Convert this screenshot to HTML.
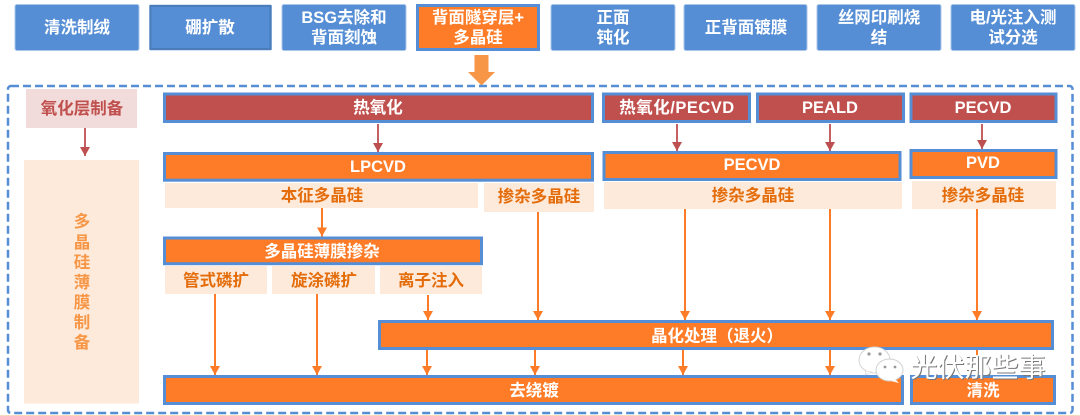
<!DOCTYPE html>
<html lang="zh"><head><meta charset="utf-8"><style>
html,body{margin:0;padding:0;background:#fff}
svg{display:block}
text{font-family:"Liberation Sans","Noto Sans CJK SC",sans-serif;font-weight:700;text-anchor:middle;dominant-baseline:central}
.w{fill:#fff}.o{fill:#e46c0a}.r{fill:#c0504d}.p{fill:#f79646}
</style></head><body>
<svg width="1080" height="416" viewBox="0 0 1080 416" xmlns="http://www.w3.org/2000/svg">
<defs>
<marker id="ao" markerUnits="userSpaceOnUse" markerWidth="10" markerHeight="10" refX="9" refY="5" orient="auto"><path d="M0 0L9 5L0 10z" fill="#fe7c27"/></marker>
<marker id="ar" markerUnits="userSpaceOnUse" markerWidth="10" markerHeight="10" refX="9" refY="5" orient="auto"><path d="M0 0L9 5L0 10z" fill="#bd4f50"/></marker>
</defs>
<rect width="1080" height="416" fill="#fff"/>
<g fill="#558ed5" stroke="#a9c6ea" stroke-width="1">
<rect x="15" y="4.500" width="124" height="46" rx="2"/>
<rect x="282" y="4.500" width="124" height="46" rx="2"/>
<rect x="551" y="4.500" width="124" height="46" rx="2"/>
<rect x="684" y="4.500" width="123" height="46" rx="2"/>
<rect x="817" y="4.500" width="124" height="46" rx="2"/>
<rect x="951" y="4.500" width="124" height="46" rx="2"/>
</g>
<rect x="149" y="4.500" width="123" height="46" rx="2" fill="#a9c6ea"/>
<rect x="150.500" y="6" width="120" height="43" fill="#558ed5" stroke="#4a7db9" stroke-width="2"/>
<rect x="417.500" y="5.500" width="121" height="44" fill="#fe7c27" stroke="#558ed5" stroke-width="3"/>
<g font-size="16.500">
<text x="77" y="28" class="w">清洗制绒</text>
<text x="210" y="28" class="w">硼扩散</text>
<text x="344" y="18" class="w">BSG去除和</text>
<text x="344" y="38" class="w">背面刻蚀</text>
<text x="478" y="18" class="w">背面隧穿层+</text>
<text x="478" y="38" class="w">多晶硅</text>
<text x="613" y="18" class="w">正面</text>
<text x="613" y="38" class="w">钝化</text>
<text x="746" y="28" class="w">正背面镀膜</text>
<text x="879" y="18" class="w">丝网印刷烧</text>
<text x="879" y="38" class="w">结</text>
<text x="1013" y="18" class="w">电/光注入测</text>
<text x="1013" y="38" class="w">试分选</text>
</g>
<path d="M474.500 55H488.500V72H495L481.500 85.500L468 72H474.500z" fill="#f79646"/>
<rect x="8" y="86" width="1064.500" height="327" rx="3" fill="none" stroke="#558ed5" stroke-width="2.500" stroke-dasharray="8 4"/>

<rect x="26" y="89" width="111" height="39" fill="#f2dcdb"/>
<text x="82" y="109" font-size="16.500" class="r">氧化层制备</text>
<rect x="24" y="160" width="115" height="243.500" fill="#fdeada"/>
<g font-size="16.500">
<text x="82" y="222" class="p">多</text>
<text x="82" y="243" class="p">晶</text>
<text x="82" y="263" class="p">硅</text>
<text x="82" y="283" class="p">薄</text>
<text x="82" y="303" class="p">膜</text>
<text x="82" y="323" class="p">制</text>
<text x="82" y="343" class="p">备</text>
</g>

<g fill="#c0504d" stroke="#558ed5" stroke-width="3">
<rect x="164.500" y="94" width="428" height="27.500"/>
<rect x="603.500" y="94" width="146" height="27.500"/>
<rect x="757.500" y="94" width="146" height="27.500"/>
<rect x="911" y="94" width="145" height="27.500"/>
</g>
<g font-size="16.500">
<text x="378" y="108" class="w">热氧化</text>
<text x="677" y="108" class="w" letter-spacing=".5">热氧化/PECVD</text>
<text x="830" y="108" class="w">PEALD</text>
<text x="983" y="108" class="w">PECVD</text>
</g>

<g fill="#fdeada">
<rect x="165" y="183" width="313" height="25"/>
<rect x="484" y="183" width="110" height="29"/>
<rect x="604" y="182" width="298" height="27"/>
<rect x="912" y="181" width="144" height="28"/>
<rect x="165" y="266" width="102" height="28"/>
<rect x="272" y="266" width="103" height="28"/>
<rect x="380" y="266" width="102" height="28"/>
</g>
<g fill="#fe7c27" stroke="#558ed5" stroke-width="3">
<rect x="164.500" y="153.500" width="428" height="26.700"/>
<rect x="604" y="152.500" width="296" height="27"/>
<rect x="911" y="150.500" width="145" height="27"/>
<rect x="164.500" y="238" width="317" height="25.700"/>
<rect x="379.500" y="321.500" width="673" height="27"/>
<rect x="164.500" y="376.500" width="738" height="27"/>
<rect x="911.500" y="376.500" width="143" height="27"/>
</g>
<g font-size="16.500">
<text x="378" y="167" class="w">LPCVD</text>
<text x="752" y="165" class="w">PECVD</text>
<text x="983" y="163" class="w">PVD</text>
<text x="322" y="252" class="w">多晶硅薄膜掺杂</text>
<text x="717" y="336.500" class="w">晶化处理（退火）</text>
<text x="534" y="391" class="w">去绕镀</text>
<text x="983" y="391" class="w">清洗</text>
<text x="322" y="196" class="o">本征多晶硅</text>
<text x="539" y="197" class="o">掺杂多晶硅</text>
<text x="753" y="196" class="o">掺杂多晶硅</text>
<text x="983" y="196" class="o">掺杂多晶硅</text>
<text x="216" y="281" class="o">管式磷扩</text>
<text x="324" y="281" class="o">旋涂磷扩</text>
<text x="431" y="281" class="o">离子注入</text>
</g>

<g stroke="#bd4f50" stroke-width="1.800" fill="none">
<line x1="85" y1="128" x2="85" y2="156" marker-end="url(#ar)"/>
<line x1="378" y1="124" x2="378" y2="152" marker-end="url(#ar)"/>
<line x1="677" y1="124" x2="677" y2="151" marker-end="url(#ar)"/>
<line x1="830" y1="124" x2="830" y2="151" marker-end="url(#ar)"/>
<line x1="982" y1="124" x2="982" y2="149" marker-end="url(#ar)"/>
</g>
<g stroke="#fe7c27" stroke-width="2" fill="none">
<line x1="322" y1="208" x2="322" y2="236.500" marker-end="url(#ao)"/>
<line x1="215" y1="294" x2="215" y2="375" marker-end="url(#ao)"/>
<line x1="317" y1="294" x2="317" y2="375" marker-end="url(#ao)"/>
<line x1="428" y1="295" x2="428" y2="320" marker-end="url(#ao)"/>
<line x1="538" y1="212" x2="538" y2="320" marker-end="url(#ao)"/>
<line x1="685" y1="209" x2="685" y2="320" marker-end="url(#ao)"/>
<line x1="830" y1="209" x2="830" y2="320" marker-end="url(#ao)"/>
<line x1="977" y1="209" x2="977" y2="320" marker-end="url(#ao)"/>
<line x1="427" y1="350" x2="427" y2="375" marker-end="url(#ao)"/>
<line x1="535" y1="350" x2="535" y2="375" marker-end="url(#ao)"/>
<line x1="683" y1="350" x2="683" y2="375" marker-end="url(#ao)"/>
<line x1="830" y1="350" x2="830" y2="375" marker-end="url(#ao)"/>
<line x1="977" y1="350" x2="977" y2="375"/>
</g>

<g>
<ellipse cx="874.500" cy="360" rx="15.500" ry="13" fill="#fff" stroke="#d5d5d5" stroke-width="1"/>
<path d="M866 371l-1 4 7-3z" fill="#fff" stroke="#d5d5d5" stroke-width=".6"/>
<ellipse cx="889.500" cy="370" rx="13.500" ry="11" fill="#fff" stroke="#d0d0d0" stroke-width="1"/>
<path d="M895 379l4 4-8-2z" fill="#fff"/>
<circle cx="869" cy="354" r="1.600" fill="#999"/><circle cx="880" cy="354" r="1.600" fill="#999"/>
<circle cx="885" cy="367" r="1.400" fill="#999"/><circle cx="895" cy="367" r="1.400" fill="#999"/>
</g>
<text x="978" y="368" font-size="27" style="font-weight:400" fill="#777" transform="translate(1 1)">光伏那些事</text>
<text x="978" y="368" font-size="27" style="font-weight:400" fill="#fff">光伏那些事</text>
<rect x="0" y="415" width="1080" height="1" fill="#f9d9bc"/>
</svg>
</body></html>
